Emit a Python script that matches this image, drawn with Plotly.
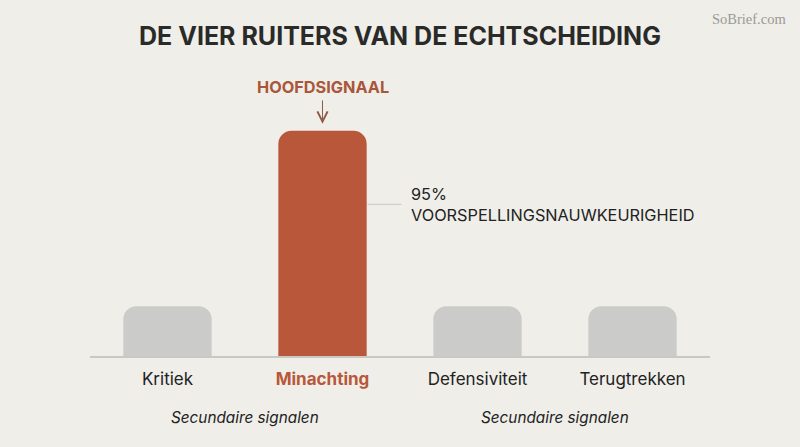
import plotly.graph_objects as go

categories = ["Kritiek", "Minachting", "Defensiviteit", "Terugtrekken"]
values = [21, 95, 21, 21]
highlight = "Minachting"
callout_value = "95%"
callout_text = "VOORSPELLINGSNAUWKEURIGHEID"
group_labels = ["Secundaire signalen", "Secundaire signalen"]

BG = "#efeee9"
RED = "#b8573a"
GREY = "#cbcbc9"
FONT = "Inter"

colors = [RED if c == highlight else GREY for c in categories]
ticktext = [f"<b><span style='color:{RED}'>{c}</span></b>" if c == highlight else c for c in categories]

fig = go.Figure(go.Bar(
    x=list(range(len(categories))), y=values,
    marker=dict(color=colors, line=dict(width=0)),
    width=0.57, hoverinfo="skip",
))

hi = categories.index(highlight)
hv = values[hi]

fig.update_layout(
    width=800, height=447,
    paper_bgcolor=BG, plot_bgcolor=BG,
    margin=dict(l=90, r=90, t=119, b=91),
    barcornerradius=13,
    showlegend=False,
    font=dict(family=FONT, color="#222"),
    title=dict(text="<b>DE VIER RUITERS VAN DE ECHTSCHEIDING</b>", x=0.5, xanchor="center",
               y=0.918, yanchor="middle", font=dict(size=25, color="#2a2a28", family=FONT)),
    xaxis=dict(range=[-0.5, 3.5], tickvals=list(range(len(categories))), ticktext=ticktext,
               showgrid=False, zeroline=False, showline=True, linecolor="#c9c8c2", linewidth=1.5,
               ticks="", tickfont=dict(size=17, color="#222", family=FONT), ticklabelstandoff=7,
               fixedrange=True),
    yaxis=dict(range=[0, 100], visible=False, fixedrange=True),
)

# Watermark
fig.add_annotation(text="SoBrief.com", xref="paper", yref="paper", x=1.126, y=1.42,
                   showarrow=False, xanchor="right", yanchor="middle",
                   font=dict(size=14.5, color="#9a9a96", family="Liberation Serif"))

# Highlight label + arrow
fig.add_annotation(text="<b>HOOFDSIGNAAL</b>", x=hi, y=hv, xref="x", yref="y", yshift=44,
                   showarrow=False, xanchor="center", yanchor="middle",
                   font=dict(size=16.3, color="#a9563a", family=FONT))
fig.add_annotation(text="", x=hi, y=hv, xref="x", yref="y", ax=0, ay=-32,
                   showarrow=True, arrowhead=5, arrowsize=2, arrowwidth=1,
                   arrowcolor="#8f5a48", standoff=7)

# Callout
fig.add_shape(type="line", xref="x", yref="y", x0=hi + 0.29, x1=hi + 0.51, y0=64, y1=64,
              line=dict(color="#c9c8c2", width=1))
fig.add_annotation(text=f"{callout_value}<br>{callout_text}", x=hi + 0.555, y=64, xref="x", yref="y",
                   showarrow=False, xanchor="left", yanchor="middle", align="left",
                   font=dict(size=16.3, color="#222", family=FONT))

# Group labels
for xpos, lab in zip([0.5, 2.5], group_labels):
    fig.add_annotation(text=f"<i>{lab}</i>", x=xpos, y=-0.26, xref="x", yref="paper",
                       showarrow=False, xanchor="center", yanchor="middle",
                       font=dict(size=15.3, color="#222", family=FONT))

fig.write_html("out.html", config={"displayModeBar": False})
